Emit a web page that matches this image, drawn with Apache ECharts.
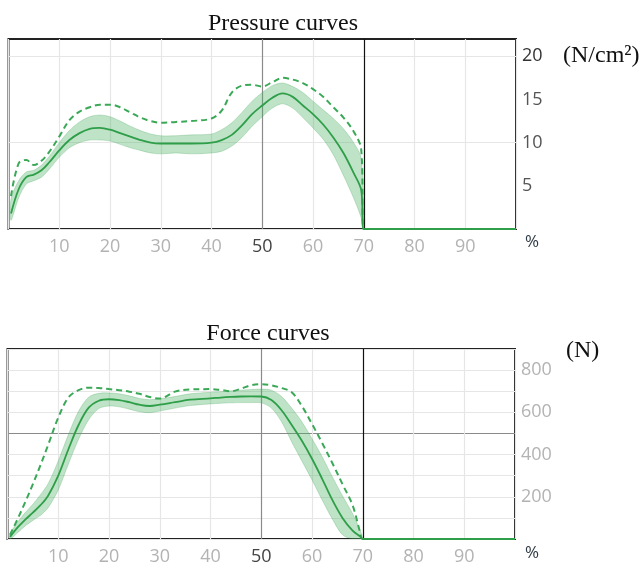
<!DOCTYPE html>
<html>
<head>
<meta charset="UTF-8">
<title>Pressure and force curves</title>
<script src="https://cdn.jsdelivr.net/npm/echarts@6/dist/echarts.min.js"></script>
<style>
    html, body { margin: 0; padding: 0; background: #fff; }
    #main { width: 639px; height: 566px; }
</style>
</head>
<body>
<div id="main"></div>
<script>
    // x positions (% of cycle), shared by every series
    var xs = [0.5, 2, 3.5, 5, 6.5, 8, 10, 12, 14, 16, 18, 20, 22, 24, 26, 28, 30, 33, 36, 40,
        42, 44, 46, 48, 50, 52, 54, 56, 58, 60, 62, 64, 66, 68, 69.5, 70, 100];

    // pressure (N/cm2)
    var pressMean = [1.8, 4.6, 6.0, 6.3, 6.8, 7.7, 9.1, 10.3, 11.1, 11.6, 11.7, 11.5, 11.1, 10.7, 10.3, 10.0, 9.9, 9.9, 9.9, 10.0,
        10.3, 10.9, 12.0, 13.3, 14.3, 15.2, 15.7, 15.3, 14.3, 13.3, 12.1, 10.6, 8.8, 6.5, 4.5, 0, 0];
    var pressUpper = [3.5, 5.6, 6.6, 6.8, 7.4, 8.4, 10.0, 11.4, 12.4, 13.0, 13.2, 13.0, 12.5, 11.9, 11.4, 11.0, 10.8, 10.8, 10.9, 11.0,
        11.5, 12.3, 13.5, 14.8, 15.8, 16.6, 16.9, 16.5, 15.8, 14.8, 13.8, 12.8, 11.6, 10.0, 8.2, 0, 0];
    var pressLower = [1.0, 3.6, 5.2, 5.6, 6.0, 6.9, 8.3, 9.4, 10.0, 10.3, 10.3, 10.2, 9.8, 9.4, 9.1, 8.8, 8.7, 8.8, 8.7, 8.8,
        9.0, 9.6, 10.6, 11.9, 13.0, 14.0, 14.5, 14.0, 12.9, 11.7, 10.4, 8.6, 6.2, 3.6, 1.3, 0, 0];
    var pressPeak = [3.8, 7.6, 8.0, 7.4, 7.9, 8.9, 10.7, 12.6, 13.6, 14.1, 14.4, 14.4, 14.1, 13.5, 12.9, 12.5, 12.3, 12.4, 12.5, 12.8,
        13.7, 15.8, 16.6, 16.7, 16.5, 17.0, 17.5, 17.3, 16.9, 16.2, 15.3, 14.1, 12.9, 11.3, 9.2, 0, 0];

    // force (N)
    var forceMean = [10, 55, 92, 125, 160, 205, 300, 425, 540, 622, 655, 662, 658, 648, 636, 630, 636, 648, 660, 666,
        670, 673, 675, 676, 675, 658, 610, 540, 465, 380, 285, 185, 100, 40, 12, 0, 0];
    var forceUpper = [25, 80, 125, 165, 210, 262, 370, 495, 605, 672, 690, 692, 688, 678, 666, 660, 664, 675, 688, 695,
        698, 702, 705, 708, 710, 705, 675, 620, 555, 475, 390, 295, 205, 120, 40, 0, 0];
    var forceLower = [0, 30, 62, 88, 112, 148, 232, 355, 472, 565, 618, 630, 626, 615, 603, 598, 606, 620, 632, 640,
        643, 645, 646, 646, 645, 620, 555, 460, 370, 280, 185, 95, 20, 0, 0, 0, 0];
    var forcePeak = [20, 95, 175, 260, 350, 445, 575, 670, 705, 717, 715, 710, 705, 698, 688, 673, 665, 698, 708, 710,
        706, 700, 712, 728, 733, 728, 715, 695, 630, 545, 455, 360, 260, 160, 30, 0, 0];

    var green = '#2e9e48';
    var smoothing = 0.35;

    function pts(arr) {
        return xs.map(function (x, i) { return [x, arr[i]]; });
    }

    // gridline colours: x=50 grey, x=70 black
    var vLineColors = ['#e6e6e6', '#e6e6e6', '#e6e6e6', '#e6e6e6', '#e6e6e6', '#8a8a8a', '#e6e6e6', '#111', '#e6e6e6', '#e6e6e6', '#e6e6e6'];

    function xAxisFor(gi) {
        return {
            type: 'value', gridIndex: gi, min: 0, max: 100, interval: 10,
            axisLine: { show: false }, axisTick: { show: false },
            axisLabel: {
                margin: 9, fontSize: 18, fontFamily: 'Open Sans',
                color: function (v) { return v == 50 ? '#444' : '#b3b3b3'; },
                formatter: function (v) { return (v == 0 || v == 100) ? '' : v; }
            },
            splitLine: { show: true, lineStyle: { color: vLineColors, width: 1.2 } }
        };
    }

    // band between lower and upper, drawn as one polygon through the axes
    function bandSeries(gi, upper, lower) {
        return {
            type: 'custom', xAxisIndex: gi, yAxisIndex: gi, silent: true, clip: true,
            data: xs.map(function (x, i) { return [x, upper[i], lower[i]]; }),
            encode: { x: 0, y: [1, 2] },
            renderItem: function (params, api) {
                if (params.dataIndex !== 0) return null;
                var top = [], bot = [];
                for (var i = 0; i < xs.length; i++) {
                    if (xs[i] > 70) break;
                    top.push(api.coord([xs[i], upper[i]]));
                    if (xs[i] < 70) bot.unshift(api.coord([xs[i], lower[i]]));
                }
                return {
                    type: 'polygon',
                    shape: { points: top.concat(bot), smooth: 0.3 },
                    style: { fill: 'rgba(75,178,100,0.36)', stroke: 'rgba(60,160,85,0.25)', lineWidth: 1 }
                };
            }
        };
    }

    function seriesFor(gi, mean, upper, lower, peak, name) {
        return [
            bandSeries(gi, upper, lower),
            {
                name: name + ' peak', type: 'line', xAxisIndex: gi, yAxisIndex: gi,
                data: pts(peak), smooth: smoothing, symbol: 'none',
                lineStyle: { color: '#3aa857', width: 2, type: [6, 4] }
            },
            {
                name: name + ' mean', type: 'line', xAxisIndex: gi, yAxisIndex: gi,
                data: pts(mean), smooth: smoothing, symbol: 'none',
                lineStyle: { color: green, width: 1.8 }
            }
        ];
    }

    var myChart = echarts.init(document.getElementById('main'), null, { renderer: 'canvas' });

    var option = {
        animation: false,
        title: [
            { text: 'Pressure curves', left: 278, top: 7, textAlign: 'center',
              textStyle: { fontFamily: 'Liberation Serif', fontWeight: 'normal', fontSize: 24, color: '#111' } },
            { text: 'Force curves', left: 263, top: 317, textAlign: 'center',
              textStyle: { fontFamily: 'Liberation Serif', fontWeight: 'normal', fontSize: 24, color: '#111' } }
        ],
        graphic: [
            { type: 'text', left: 563, top: 44, style: { text: '(N/cm²)', font: '24px "Liberation Serif"', fill: '#111' } },
            { type: 'text', left: 566, top: 339, style: { text: '(N)', font: '24px "Liberation Serif"', fill: '#111' } },
            { type: 'text', left: 525, top: 234, style: { text: '%', font: '17px "Open Sans"', fill: '#2f3b45' } },
            { type: 'text', left: 525, top: 545, style: { text: '%', font: '17px "Open Sans"', fill: '#2f3b45' } }
        ],
        grid: [
            { left: 8.5, top: 39, width: 507.5, height: 190, show: true, borderColor: '#222', borderWidth: 2 },
            { left: 7.5, top: 349, width: 507.5, height: 190, show: true, borderColor: '#222', borderWidth: 2 }
        ],
        xAxis: [xAxisFor(0), xAxisFor(1)],
        yAxis: [
            {
                type: 'value', gridIndex: 0, position: 'right', min: 0, max: 22, interval: 5,
                axisLine: { show: false }, axisTick: { show: false },
                axisLabel: {
                    margin: 6, fontSize: 18, fontFamily: 'Open Sans',
                    color: function (v) { return v == 20 ? '#333' : '#555'; },
                    formatter: function (v) { return (v == 0 || v == 22) ? '' : v; }
                },
                splitLine: { show: true, lineStyle: { color: ['#e6e6e6', 'rgba(0,0,0,0)'] } }
            },
            {
                type: 'value', gridIndex: 1, position: 'right', min: 0, max: 900, interval: 100,
                axisLine: { show: false }, axisTick: { show: false },
                axisLabel: {
                    margin: 6, fontSize: 18, fontFamily: 'Open Sans', color: '#b3b3b3',
                    formatter: function (v) { return (v == 0 || v % 200 != 0) ? '' : v; }
                },
                splitLine: {
                    show: true,
                    lineStyle: { color: ['#e6e6e6', '#e6e6e6', '#e6e6e6', '#e6e6e6', '#e6e6e6', '#8a8a8a', '#e6e6e6', '#e6e6e6', '#e6e6e6', '#e6e6e6'] }
                }
            }
        ],
        series: seriesFor(0, pressMean, pressUpper, pressLower, pressPeak, 'pressure')
            .concat(seriesFor(1, forceMean, forceUpper, forceLower, forcePeak, 'force'))
    };

    myChart.setOption(option);
</script>
</body>
</html>
